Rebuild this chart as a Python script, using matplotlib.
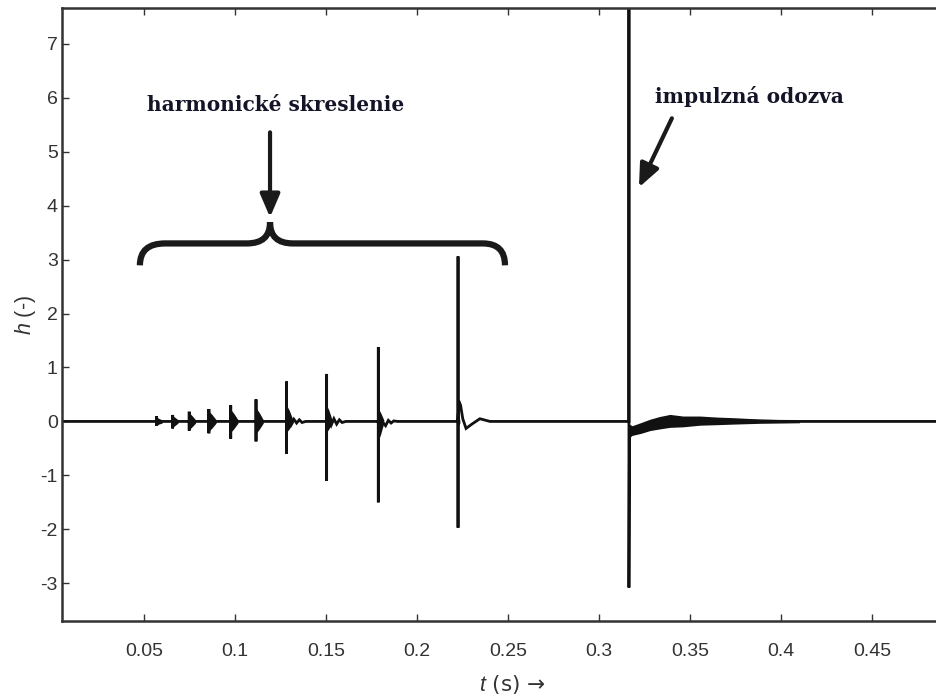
import numpy as np
import matplotlib.pyplot as plt
from matplotlib.path import Path
import matplotlib.patches as mpatches

plt.rcParams['font.family'] = ['Liberation Sans', 'DejaVu Sans']
plt.rcParams['mathtext.fontset'] = 'custom'
plt.rcParams['mathtext.rm'] = 'Liberation Sans'
plt.rcParams['mathtext.it'] = 'Liberation Sans:italic'
plt.rcParams['axes.unicode_minus'] = False

# time window shown
t_start, t_end = 0.0048, 0.5

# harmonic distortion bursts
burst_t = [0.0568, 0.0656, 0.0747, 0.0855, 0.0975, 0.1114, 0.1282, 0.1502, 0.1786, 0.2224]
burst_hi = [0.10, 0.12, 0.18, 0.23, 0.30, 0.41, 0.74, 0.88, 1.38, 3.06]
burst_lo = [-0.08, -0.13, -0.17, -0.22, -0.32, -0.37, -0.60, -1.10, -1.50, -1.97]
blob_hi = [0.08, 0.11, 0.16, 0.19, 0.22, 0.25, 0.30, 0.30, 0.24, 0.10]
blob_lo = [-0.07, -0.11, -0.15, -0.18, -0.20, -0.22, -0.20, -0.20, -0.35, -0.10]
blob_len = [0.0030, 0.0030, 0.0035, 0.0040, 0.0040, 0.0040, 0.0035, 0.0030, 0.0030, 0.0010]

# ringing after the larger bursts (ms after burst, value)
ring_dt_ms = [1.0, 2.5, 4.0, 5.5, 7.0, 8.5, 10.5]
ring_b7 = [0.05, -0.06, 0.04, -0.03, 0.03, -0.02, 0.0]
ring_b8 = [0.06, -0.07, 0.05, -0.05, 0.03, -0.02, 0.0]
ring_b9 = [-0.10, -0.02, -0.08, 0.02, -0.03, 0.01, 0.0]
rings = {6: ring_b7, 7: ring_b8, 8: ring_b9}

# slow tail after the biggest burst
big_tail_t = [0.2228, 0.2238, 0.2250, 0.2268, 0.2300, 0.2344, 0.2399]
big_tail_h = [0.38, 0.30, 0.05, -0.13, -0.05, 0.05, 0.0]

# impulse response
imp_t = 0.3163
imp_hi = 9.0
imp_lo = -3.08
env_t = [0.3166, 0.3180, 0.3230, 0.3278, 0.3330, 0.3388, 0.3460, 0.3553, 0.3650, 0.3734, 0.3883, 0.4100]
env_hi = [-0.05, -0.08, -0.02, 0.04, 0.09, 0.13, 0.10, 0.10, 0.08, 0.07, 0.045, 0.025]
env_lo = [-0.30, -0.26, -0.22, -0.17, -0.14, -0.11, -0.10, -0.07, -0.06, -0.05, -0.035, -0.025]

# build the trace
tt = [t_start]
hh = [0.0]
for i, t in enumerate(burst_t):
    tt += [t, t, t, t]
    hh += [0.0, burst_hi[i], burst_lo[i], 0.0]
    if i in rings:
        tt += [t + d / 1000 for d in ring_dt_ms]
        hh += rings[i]
    if i == len(burst_t) - 1:
        tt += big_tail_t
        hh += big_tail_h
tt += [imp_t, imp_t, imp_t, env_t[0]]
hh += [0.0, imp_hi, imp_lo, (env_hi[0] + env_lo[0]) / 2]
tt += env_t[1:]
hh += [(a + b) / 2 for a, b in zip(env_hi[1:], env_lo[1:])]
tt += [t_end]
hh += [0.0]

fig = plt.figure(figsize=(9.36, 6.97), dpi=100)
ax = fig.add_axes([0.06624, 0.10904, 0.9629, 0.8791])

ink = '#111111'
ax.plot(tt, hh, color=ink, lw=2.0, solid_joinstyle='miter')

for i, t in enumerate(burst_t):
    ax.fill_between([t - 0.0002, t, t + blob_len[i] * 0.4, t + blob_len[i]],
                    [0.03, blob_hi[i], blob_hi[i] * 0.7, 0.03],
                    [-0.03, blob_lo[i], blob_lo[i] * 0.7, -0.03],
                    color=ink, lw=0)
ax.fill_between(env_t, env_hi, env_lo, color=ink, lw=0)

ax.set_xlim(t_start, t_end)
ax.set_ylim(-3.7, 7.66)
xt = [0.05, 0.1, 0.15, 0.2, 0.25, 0.3, 0.35, 0.4, 0.45]
ax.set_xticks(xt)
ax.set_xticklabels(['%g' % v for v in xt])
ax.set_yticks(range(-3, 8))

for s in ax.spines.values():
    s.set_color('#333333')
    s.set_linewidth(1.8)
ax.tick_params(direction='in', length=5, width=1.0, color='#333333',
               labelcolor='#333333', labelsize=14, top=True, right=True)
ax.tick_params(axis='x', pad=16)
ax.tick_params(axis='y', pad=3)

ax.set_xlabel('$t$ (s) \u2192', fontsize=15.5, color='#333333', labelpad=9,
              family=['DejaVu Sans'])
ax.set_ylabel('$h$ (-)', fontsize=15.5, color='#333333', labelpad=2)

# annotations
txt = '#141428'
ax.text(0.1221, 5.86, 'harmonické skreslenie', family='DejaVu Serif', weight='bold',
        fontsize=14.5, color=txt, ha='center', va='center')
ax.text(0.3827, 6.03, 'impulzná odozva', family='DejaVu Serif', weight='bold',
        fontsize=14.5, color=txt, ha='center', va='center')

arrow = dict(arrowstyle='-|>,head_length=0.7,head_width=0.3', lw=3.0, color='#1a1a1a',
             shrinkA=0, shrinkB=0, mutation_scale=20)
ax.annotate('', xy=(0.1191, 3.785), xytext=(0.1191, 5.36), arrowprops=arrow)
ax.annotate('', xy=(0.3218, 4.34), xytext=(0.3399, 5.62), arrowprops=arrow)

# curly brace over the distortion part
brace_y, brace_end, brace_tip = 3.30, 2.894, 3.69
verts = [(0.0476, brace_end), (0.0476, brace_y), (0.0614, brace_y),
         (0.1064, brace_y),
         (0.1191, brace_y), (0.1191, brace_tip),
         (0.1191, brace_y), (0.1317, brace_y),
         (0.2361, brace_y),
         (0.2482, brace_y), (0.2482, brace_end)]
codes = [Path.MOVETO, Path.CURVE3, Path.CURVE3, Path.LINETO,
         Path.CURVE3, Path.CURVE3, Path.CURVE3, Path.CURVE3,
         Path.LINETO, Path.CURVE3, Path.CURVE3]
ax.add_patch(mpatches.PathPatch(Path(verts, codes), fill=False, lw=4.5,
                                color='#1a1a1a', capstyle='butt'))

fig.savefig('out.png', dpi=100)
